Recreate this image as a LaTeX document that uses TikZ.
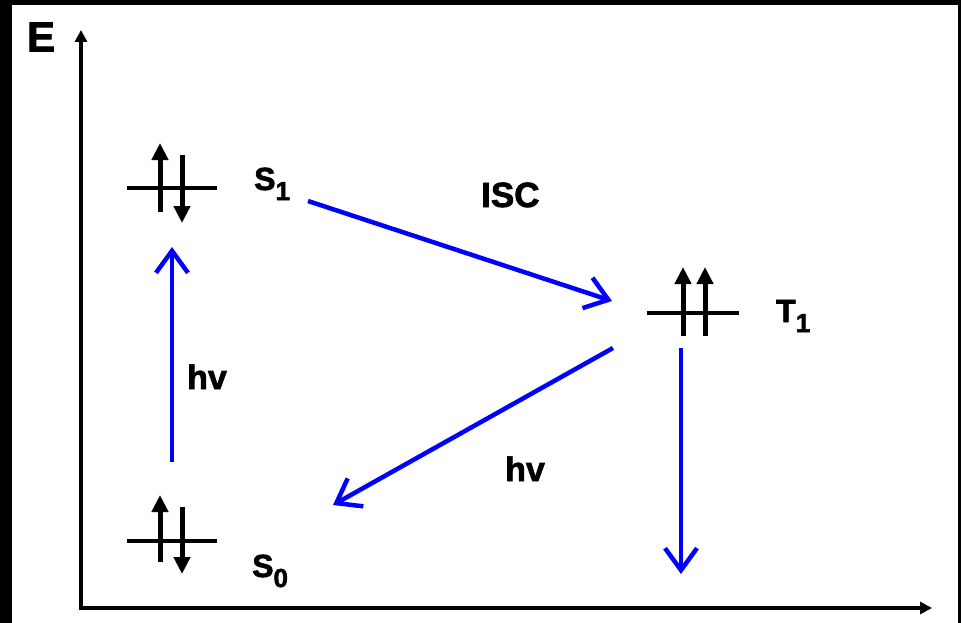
\documentclass[tikz,border=0pt]{standalone}
\usepackage{fontspec}
\setmainfont{Liberation Sans}
\newfontfamily\heavy[FakeBold=2]{Liberation Sans Bold}
\usetikzlibrary{arrows.meta}
\tikzset{
  axis/.style={line width=3.5pt, line join=miter, {Triangle[length=12pt,width=12pt]}-{Triangle[length=12pt,width=12pt]}},
  level/.style={line width=4pt},
  spin/.style={line width=5pt, -{Triangle[length=17pt,width=16pt]}},
  trans/.style={draw={rgb,255:red,0;green,0;blue,255}, line width=4.5pt, -{Straight Barb[length=22pt,width=32pt,line width=4.5pt]}},
  lab/.style={inner sep=0pt, anchor=base west, font=\fontsize{32}{36}\selectfont\heavy}
}
\newcommand{\subsc}[1]{\raisebox{-10pt}{\fontsize{26}{28}\selectfont\heavy #1}}
\begin{document}
\begin{tikzpicture}[x=1pt,y=-1pt]
\fill[black] (0,0) rectangle (961,623);
\fill[white] (12,5) rectangle (958,623);
\useasboundingbox (0,0) rectangle (961,623);
% axes
\coordinate (ytop) at (81,30);
\coordinate (O) at (81,608);
\coordinate (xend) at (932,608);
\draw[axis] (ytop) -- (O) -- (xend);
\node[inner sep=0pt, font=\fontsize{42}{46}\selectfont\heavy] (E) at (41,37) {E};
% S1 level
\coordinate (s1l) at (127,188); \coordinate (s1r) at (217,188);
\draw[level] (s1l) -- (s1r);
\coordinate (s1ua) at (160,212); \coordinate (s1ub) at (160,143);
\coordinate (s1da) at (182,155); \coordinate (s1db) at (182,223);
\draw[spin] (s1ua) -- (s1ub);
\draw[spin] (s1da) -- (s1db);
\node[lab] (S1) at (254,190) {S\subsc{1}};
% S0 level
\coordinate (s0l) at (127,541); \coordinate (s0r) at (217,541);
\draw[level] (s0l) -- (s0r);
\coordinate (s0ua) at (160,562); \coordinate (s0ub) at (160,495);
\coordinate (s0da) at (182,507); \coordinate (s0db) at (182,574);
\draw[spin] (s0ua) -- (s0ub);
\draw[spin] (s0da) -- (s0db);
\node[lab] (S0) at (252,577) {S\subsc{0}};
% T1 level
\coordinate (t1l) at (647,313); \coordinate (t1r) at (739,313);
\draw[level] (t1l) -- (t1r);
\coordinate (t1aa) at (683,336); \coordinate (t1ab) at (683,267);
\coordinate (t1ba) at (705,336); \coordinate (t1bb) at (705,267);
\draw[spin] (t1aa) -- (t1ab);
\draw[spin] (t1ba) -- (t1bb);
\node[lab] (T1) at (776,322) {T\subsc{1}};
% transitions
\coordinate (abs0) at (172,462); \coordinate (abs1) at (172,247);
\draw[trans] (abs0) -- (abs1);
\node[lab, font=\fontsize{34}{38}\selectfont\heavy] (hv1) at (187,389) {hv};
\coordinate (isc0) at (308,201); \coordinate (isc1) at (612,301);
\draw[trans] (isc0) -- (isc1);
\node[lab, font=\fontsize{35}{38}\selectfont\heavy] (ISC) at (481,207) {ISC};
\coordinate (ph0) at (613,348); \coordinate (ph1) at (333,505);
\draw[trans] (ph0) -- (ph1);
\node[lab, font=\fontsize{34}{38}\selectfont\heavy] (hv2) at (505,481) {hv};
\coordinate (nr0) at (681,348); \coordinate (nr1) at (681,574);
\draw[trans] (nr0) -- (nr1);
\end{tikzpicture}
\end{document}
